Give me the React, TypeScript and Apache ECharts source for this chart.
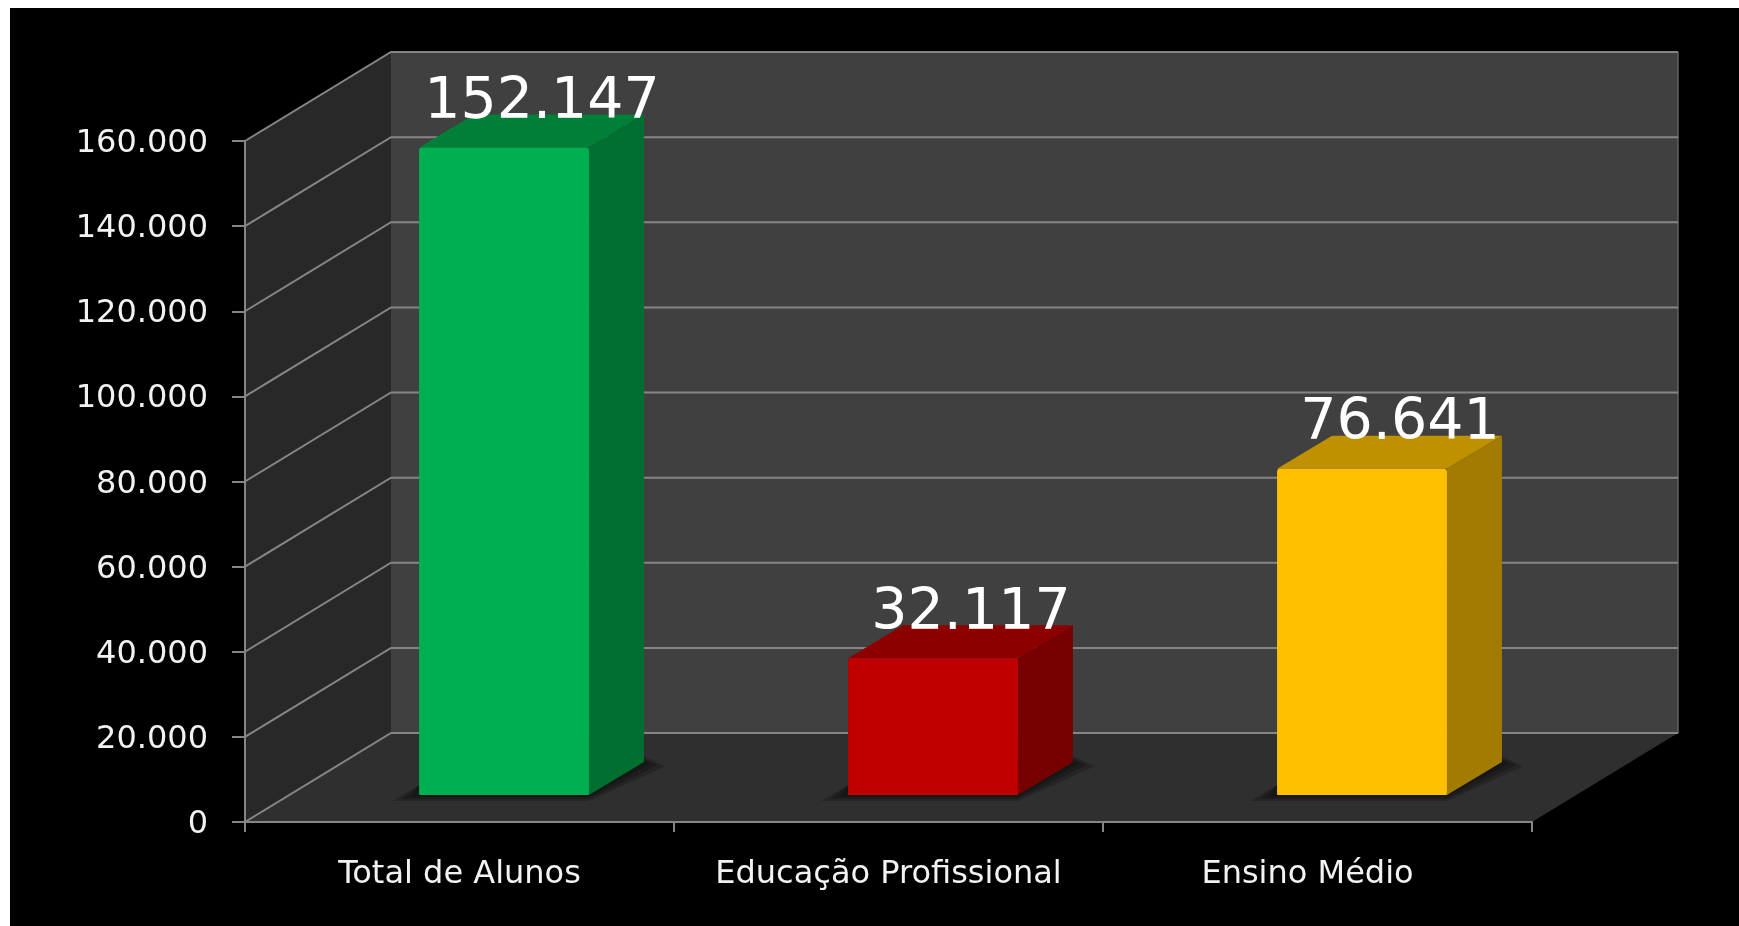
import React, { useEffect, useRef } from "react";
import * as echarts from "echarts";

const categories = ["Total de Alunos", "Educação Profissional", "Ensino Médio"];
const values = [152147, 32117, 76641];
const valueLabels = ["152.147", "32.117", "76.641"];
const yTicks = [0, 20000, 40000, 60000, 80000, 100000, 120000, 140000, 160000];
const yTickLabels = ["0", "20.000", "40.000", "60.000", "80.000", "100.000", "120.000", "140.000", "160.000"];
const frontColors = ["#00b050", "#c00000", "#ffc000"];
const sideColors = ["#006f30", "#760000", "#a37b00"];
const topColors = ["#007f38", "#8c0000", "#bf9000"];

const FONT = "'DejaVu Sans', 'Noto Sans', sans-serif";
const LINE = "#858585";
const DEPTH_X = 146;
const DEPTH_Y = -89;
const BAR_DEPTH_X = 55;
const BAR_DEPTH_Y = -33;
const BAR_OFFSET_X = 44.5;
const BAR_OFFSET_Y = -27;
const SHADOW_LAYERS = [1, 2, 3];

export default function App() {
  const ref = useRef<HTMLDivElement>(null);
  useEffect(() => {
    const chart = echarts.init(ref.current!, null, { renderer: "svg" });
    chart.setOption({
      animation: false,
      backgroundColor: "#000000",
      grid: { left: 235, top: 133, right: 207, bottom: 104 },
      xAxis: {
        type: "category",
        data: [
          categories[0],
          categories[1],
          { value: categories[2], textStyle: { padding: [0, 20, 0, 0] } },
        ],
        axisLine: { show: true, lineStyle: { color: LINE, width: 2 } },
        axisTick: { show: true, length: 10, lineStyle: { color: LINE, width: 2 } },
        axisLabel: { color: "#f2f2f2", fontFamily: FONT, fontSize: 32, interval: 0, hideOverlap: false, margin: 34 },
        z: 5,
      },
      yAxis: {
        type: "value",
        min: 0,
        max: 160000,
        interval: 20000,
        axisLine: { show: true, lineStyle: { color: LINE, width: 2 } },
        axisTick: { show: true, length: 13, lineStyle: { color: LINE, width: 2 } },
        splitLine: { show: false },
        axisLabel: {
          color: "#f2f2f2",
          fontFamily: FONT,
          fontSize: 32,
          margin: 37,
          formatter: (v: number) => yTickLabels[yTicks.indexOf(v)],
        },
        z: 5,
      },
      series: [
        {
          type: "custom",
          name: "walls",
          z: 1,
          silent: true,
          data: [[0, 0]],
          renderItem: (params: any, api: any) => {
            const cs = params.coordSys;
            const x0 = cs.x, x1 = cs.x + cs.width, yt = cs.y, yb = cs.y + cs.height;
            return {
              type: "group",
              children: [
                { type: "polygon", shape: { points: [[x0 + DEPTH_X, yt + DEPTH_Y], [x1 + DEPTH_X, yt + DEPTH_Y], [x1 + DEPTH_X, yb + DEPTH_Y], [x0 + DEPTH_X, yb + DEPTH_Y]] }, style: { fill: "#404040" } },
                { type: "polygon", shape: { points: [[x0, yt], [x0 + DEPTH_X, yt + DEPTH_Y], [x0 + DEPTH_X, yb + DEPTH_Y], [x0, yb]] }, style: { fill: "#282828" } },
                { type: "polygon", shape: { points: [[x0, yb], [x0 + DEPTH_X, yb + DEPTH_Y], [x1 + DEPTH_X, yb + DEPTH_Y], [x1, yb]] }, style: { fill: "#2f2f2f" } },
                { type: "line", shape: { x1: x1 + DEPTH_X, y1: yt + DEPTH_Y, x2: x1 + DEPTH_X, y2: yb + DEPTH_Y }, style: { stroke: "#606060", lineWidth: 1.5 } },
              ],
            };
          },
        },
        {
          type: "custom",
          name: "gridlines",
          z: 2,
          silent: true,
          data: yTicks.map((t) => [0, t]),
          renderItem: (params: any, api: any) => {
            const cs = params.coordSys;
            const y = api.coord([0, api.value(1)])[1];
            const x0 = cs.x, x1 = cs.x + cs.width;
            return {
              type: "polyline",
              shape: { points: [[x0, y], [x0 + DEPTH_X, y + DEPTH_Y], [x1 + DEPTH_X, y + DEPTH_Y]] },
              style: { stroke: LINE, lineWidth: 2, fill: "none" },
            };
          },
        },
        {
          type: "custom",
          name: "bars",
          z: 3,
          data: values.map((v, i) => [i, v]),
          encode: { x: 0, y: 1 },
          renderItem: (params: any, api: any) => {
            const i = api.value(0);
            const base = api.coord([i, 0]);
            const top = api.coord([i, api.value(1)]);
            const w = api.size([1, 0])[0] * 0.396;
            const xl = base[0] + BAR_OFFSET_X - w / 2;
            const xr = xl + w;
            const yb = base[1] + BAR_OFFSET_Y;
            const yt = top[1] + BAR_OFFSET_Y;
            const dx = BAR_DEPTH_X, dy = BAR_DEPTH_Y;
            return {
              type: "group",
              children: [
                ...SHADOW_LAYERS.map((k) => ({
                  type: "polygon",
                  shape: { points: [[xl - 9 * k, yb + 2 * k], [xr, yb + 2 * k], [xr + dx + 7 * k, yb + dy + 1.5 * k], [xr + dx, yb + dy - 2 * k], [xl, yb - 10]] },
                  style: { fill: "rgba(0,0,0,0.2)" },
                })),
                { type: "polygon", shape: { points: [[xl, yt], [xl + dx, yt + dy], [xr + dx, yt + dy], [xr, yt]] }, style: { fill: topColors[i] } },
                { type: "polygon", shape: { points: [[xr, yt], [xr + dx, yt + dy], [xr + dx, yb + dy], [xr, yb]] }, style: { fill: sideColors[i] } },
                { type: "rect", shape: { x: xl, y: yt, width: w, height: yb - yt, r: [3, 3, 1, 1] }, style: { fill: frontColors[i] } },
                {
                  type: "text",
                  x: (xl + xr) / 2 + 38,
                  y: yt + dy + 12,
                  style: {
                    text: valueLabels[i],
                    fill: "#ffffff",
                    fontFamily: FONT,
                    fontSize: 57,
                    align: "center",
                    verticalAlign: "bottom",
                  },
                },
              ],
            };
          },
        },
      ],
    });
    return () => chart.dispose();
  }, []);
  return (
    <div
      ref={ref}
      style={{ position: "fixed", left: 10, top: 8, width: 1729, height: 918, filter: "blur(0.5px)" }}
    />
  );
}
